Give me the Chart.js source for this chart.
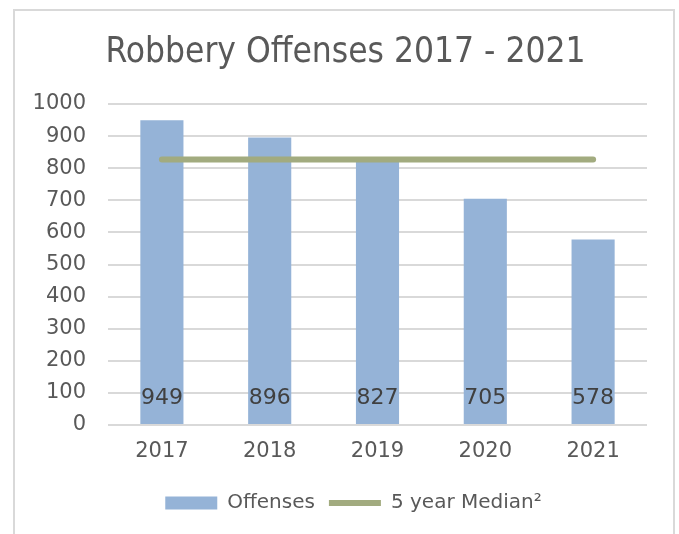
<!DOCTYPE html>
<html>
<head>
<meta charset="utf-8">
<title>Robbery Offenses 2017 - 2021</title>
<script src="https://cdn.jsdelivr.net/npm/chart.js@4/dist/chart.umd.min.js"></script>
<style>
  html, body { margin: 0; padding: 0; background: #fff; }
  #wrap { position: relative; width: 679px; height: 534px; overflow: hidden; }
  #frame {
    position: absolute; left: 13px; top: 9px; width: 662px; height: 600px;
    border: 2px solid #d9d9d9; box-sizing: border-box;
  }
  #chart { position: absolute; left: 0; top: 0; }
</style>
</head>
<body>
<div id="wrap">
  <div id="frame"></div>
  <canvas id="chart" width="679" height="534"></canvas>
</div>
<script>
const years = ['2017', '2018', '2019', '2020', '2021'];
const offenses = [949, 896, 827, 705, 578];
const median = [827, 827, 827, 827, 827];
const yTicks = [0, 100, 200, 300, 400, 500, 600, 700, 800, 900, 1000];

const textColor = '#595959';
const fontFamily = '"DejaVu Sans", sans-serif';

// value labels sit near the bottom of each bar
const barLabels = {
  id: 'barLabels',
  afterDatasetsDraw(chart) {
    const ctx = chart.ctx;
    const meta = chart.getDatasetMeta(0);
    const base = chart.scales.y.getPixelForValue(0);
    ctx.save();
    ctx.font = '22px ' + fontFamily;
    ctx.fillStyle = '#404040';
    ctx.textAlign = 'center';
    ctx.textBaseline = 'middle';
    meta.data.forEach((bar, i) => {
      ctx.fillText(String(offenses[i]), bar.x, base - 27);
    });
    ctx.restore();
  }
};

// title and legend are centred a bit right of the plot in the original
const nudgeBoxes = {
  id: 'nudgeBoxes',
  afterLayout(chart) {
    chart.titleBlock.left += 8;
    chart.titleBlock.right += 8;
    chart.legend.left += 16;
    chart.legend.right += 16;
  }
};

const ctx = document.getElementById('chart').getContext('2d');
new Chart(ctx, {
  data: {
    labels: years,
    datasets: [
      {
        type: 'bar',
        label: 'Offenses',
        data: offenses,
        backgroundColor: '#95b3d7',
        borderWidth: 0,
        barPercentage: 0.4,
        categoryPercentage: 1,
        pointStyle: 'rect',
        order: 2,
      },
      {
        type: 'line',
        label: '5 year Median\u00b2',
        data: median,
        borderColor: '#a2ab7f',
        backgroundColor: '#a2ab7f',
        borderWidth: 6,
        borderCapStyle: 'round',
        pointRadius: 0,
        pointStyle: 'line',
        order: 1,
      },
    ],
  },
  plugins: [barLabels, nudgeBoxes],
  options: {
    responsive: false,
    animation: false,
    layout: { padding: { left: 28, right: 32, top: 0, bottom: 11 } },
    plugins: {
      title: {
        display: true,
        text: 'Robbery Offenses 2017 - 2021',
        color: textColor,
        font: { family: '"Liberation Sans Narrow", "DejaVu Sans Condensed", sans-serif', size: 35, weight: 'normal' },
        padding: { top: 32, bottom: 30 },
      },
      legend: {
        position: 'bottom',
        labels: {
          color: textColor,
          font: { family: fontFamily, size: 20 },
          usePointStyle: true,
          pointStyleWidth: 52,
          boxHeight: 13,
          padding: 14,
          sort: (a, b) => a.datasetIndex - b.datasetIndex,
        },
      },
      tooltip: { enabled: false },
    },
    scales: {
      x: {
        grid: { display: false },
        border: { display: false },
        ticks: { color: textColor, font: { family: fontFamily, size: 21 }, padding: 6 },
        afterFit(scale) { scale.height = 54; },
      },
      y: {
        min: 0,
        max: 1000,
        afterBuildTicks(scale) { scale.ticks = yTicks.map((v) => ({ value: v })); },
        grid: { color: '#d9d9d9', lineWidth: 2, drawTicks: false },
        border: { display: false },
        ticks: {
          color: textColor,
          font: { family: fontFamily, size: 21 },
          padding: 22,
          callback: (value) => String(value),
        },
        afterFit(scale) { scale.width = 80; },
      },
    },
  },
});
</script>
</body>
</html>
